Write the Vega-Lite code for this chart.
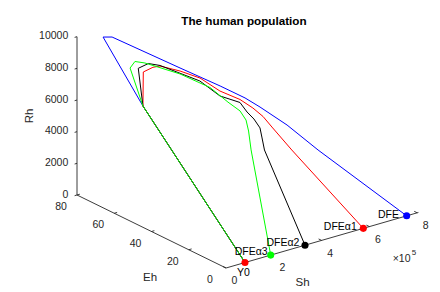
{
"$schema":"https://vega.github.io/schema/vega-lite/v6.json",
"width":440,"height":292,"autosize":{"type":"none"},"padding":0,
"background":"white",
"config":{"view":{"stroke":null},"text":{"font":"Liberation Sans"}},
"title":{"text":"The human population","font":"Liberation Sans","fontSize":11.7,"fontWeight":"bold","color":"#000000","anchor":"middle","frame":"group","dx":24,"offset":-28},
"datasets":{
"curves":[
{"c":"DFE","t":1,"Sh":79500,"Eh":0,"Rh":0},
{"c":"DFE","t":2,"Sh":79500,"Eh":54.8,"Rh":6728},
{"c":"DFE","t":3,"Sh":79500,"Eh":76.2,"Rh":9850},
{"c":"DFE","t":4,"Sh":100000,"Eh":74.0,"Rh":9890},
{"c":"DFE","t":5,"Sh":251000,"Eh":56.9,"Rh":8263},
{"c":"DFE","t":6,"Sh":341000,"Eh":46.9,"Rh":7309},
{"c":"DFE","t":7,"Sh":396000,"Eh":40.6,"Rh":6677},
{"c":"DFE","t":8,"Sh":430000,"Eh":36.9,"Rh":6166},
{"c":"DFE","t":9,"Sh":490000,"Eh":30.1,"Rh":5161},
{"c":"DFE","t":10,"Sh":559000,"Eh":22.3,"Rh":3733},
{"c":"DFE","t":11,"Sh":756000,"Eh":0,"Rh":0},
{"c":"DFEα1","t":1,"Sh":79500,"Eh":0,"Rh":0},
{"c":"DFEα1","t":2,"Sh":79500,"Eh":54.8,"Rh":6728},
{"c":"DFEα1","t":3,"Sh":79500,"Eh":54.6,"Rh":8888},
{"c":"DFEα1","t":4,"Sh":101000,"Eh":52.2,"Rh":9229},
{"c":"DFEα1","t":5,"Sh":117000,"Eh":50.5,"Rh":9337},
{"c":"DFEα1","t":6,"Sh":162000,"Eh":45.5,"Rh":9116},
{"c":"DFEα1","t":7,"Sh":207000,"Eh":40.5,"Rh":8762},
{"c":"DFEα1","t":8,"Sh":252000,"Eh":35.6,"Rh":8029},
{"c":"DFEα1","t":9,"Sh":297000,"Eh":30.6,"Rh":7587},
{"c":"DFEα1","t":10,"Sh":326000,"Eh":27.4,"Rh":7107},
{"c":"DFEα1","t":11,"Sh":349000,"Eh":24.9,"Rh":6614},
{"c":"DFEα1","t":12,"Sh":369000,"Eh":22.7,"Rh":5989},
{"c":"DFEα1","t":13,"Sh":414000,"Eh":17.8,"Rh":4624},
{"c":"DFEα1","t":14,"Sh":574500,"Eh":0,"Rh":0},
{"c":"DFEα2","t":1,"Sh":79500,"Eh":0,"Rh":0},
{"c":"DFEα2","t":2,"Sh":79500,"Eh":54.8,"Rh":6728},
{"c":"DFEα2","t":3,"Sh":79500,"Eh":57.3,"Rh":8964},
{"c":"DFEα2","t":4,"Sh":95000,"Eh":53.9,"Rh":9395},
{"c":"DFEα2","t":5,"Sh":113000,"Eh":49.9,"Rh":9425},
{"c":"DFEα2","t":6,"Sh":172000,"Eh":36.1,"Rh":8983},
{"c":"DFEα2","t":7,"Sh":203000,"Eh":29.3,"Rh":8294},
{"c":"DFEα2","t":8,"Sh":233000,"Eh":22.4,"Rh":8149},
{"c":"DFEα2","t":9,"Sh":244000,"Eh":20.0,"Rh":7637},
{"c":"DFEα2","t":10,"Sh":254000,"Eh":17.6,"Rh":7290},
{"c":"DFEα2","t":11,"Sh":263000,"Eh":15.5,"Rh":6810},
{"c":"DFEα2","t":12,"Sh":267000,"Eh":14.9,"Rh":6191},
{"c":"DFEα2","t":13,"Sh":270000,"Eh":14.0,"Rh":5471},
{"c":"DFEα2","t":14,"Sh":330500,"Eh":0,"Rh":0},
{"c":"DFEα3","t":1,"Sh":79500,"Eh":0,"Rh":0},
{"c":"DFEα3","t":2,"Sh":79500,"Eh":54.8,"Rh":6728},
{"c":"DFEα3","t":3,"Sh":79500,"Eh":61.7,"Rh":8730},
{"c":"DFEα3","t":4,"Sh":79500,"Eh":59.1,"Rh":9292},
{"c":"DFEα3","t":5,"Sh":87000,"Eh":54.7,"Rh":9419},
{"c":"DFEα3","t":6,"Sh":115000,"Eh":39.5,"Rh":9482},
{"c":"DFEα3","t":7,"Sh":139000,"Eh":26.4,"Rh":9274},
{"c":"DFEα3","t":8,"Sh":153000,"Eh":18.6,"Rh":8743},
{"c":"DFEα3","t":9,"Sh":163000,"Eh":13.4,"Rh":8440},
{"c":"DFEα3","t":10,"Sh":168000,"Eh":10.8,"Rh":7991},
{"c":"DFEα3","t":11,"Sh":170000,"Eh":9.7,"Rh":7353},
{"c":"DFEα3","t":12,"Sh":172000,"Eh":8.6,"Rh":6216},
{"c":"DFEα3","t":13,"Sh":187000,"Eh":0,"Rh":0}
],
"points":[
{"c":"DFE","Sh":756000,"Eh":0,"Rh":0},
{"c":"DFEα1","Sh":574500,"Eh":0,"Rh":0},
{"c":"DFEα2","Sh":330500,"Eh":0,"Rh":0},
{"c":"DFEα3","Sh":187000,"Eh":0,"Rh":0},
{"c":"Y0","Sh":79500,"Eh":0,"Rh":0}
],
"ptlabels":[
{"c":"DFE","Sh":724000,"Eh":0,"Rh":0},
{"c":"DFEα1","Sh":547000,"Eh":0,"Rh":0},
{"c":"DFEα2","Sh":307000,"Eh":0,"Rh":0},
{"c":"DFEα3","Sh":174500,"Eh":0,"Rh":0}
],
"segs":[
{"Sh":0,"Eh":80,"Rh":0,"Sh2":0,"Eh2":80,"Rh2":10000},
{"Sh":0,"Eh":80,"Rh":0,"Sh2":0,"Eh2":0,"Rh2":0},
{"Sh":0,"Eh":0,"Rh":0,"Sh2":805000,"Eh2":0,"Rh2":0},
{"Sh":0,"Eh":0,"Rh":0,"Sh2":0,"Eh2":1.6,"Rh2":0},
{"Sh":200000,"Eh":0,"Rh":0,"Sh2":200000,"Eh2":1.6,"Rh2":0},
{"Sh":400000,"Eh":0,"Rh":0,"Sh2":400000,"Eh2":1.6,"Rh2":0},
{"Sh":600000,"Eh":0,"Rh":0,"Sh2":600000,"Eh2":1.6,"Rh2":0},
{"Sh":800000,"Eh":0,"Rh":0,"Sh2":800000,"Eh2":1.6,"Rh2":0},
{"Sh":0,"Eh":20,"Rh":0,"Sh2":12000,"Eh2":20,"Rh2":0},
{"Sh":0,"Eh":40,"Rh":0,"Sh2":12000,"Eh2":40,"Rh2":0},
{"Sh":0,"Eh":60,"Rh":0,"Sh2":12000,"Eh2":60,"Rh2":0},
{"Sh":0,"Eh":80,"Rh":0,"Sh2":12000,"Eh2":80,"Rh2":0},
{"Sh":0,"Eh":80,"Rh":0,"Sh2":-10000,"Eh2":80,"Rh2":0},
{"Sh":0,"Eh":80,"Rh":2000,"Sh2":-10000,"Eh2":80,"Rh2":2000},
{"Sh":0,"Eh":80,"Rh":4000,"Sh2":-10000,"Eh2":80,"Rh2":4000},
{"Sh":0,"Eh":80,"Rh":6000,"Sh2":-10000,"Eh2":80,"Rh2":6000},
{"Sh":0,"Eh":80,"Rh":8000,"Sh2":-10000,"Eh2":80,"Rh2":8000},
{"Sh":0,"Eh":80,"Rh":10000,"Sh2":-10000,"Eh2":80,"Rh2":10000}
],
"shlab":[
{"t":"0","Sh":0,"Eh":0,"Rh":0},{"t":"2","Sh":200000,"Eh":0,"Rh":0},{"t":"4","Sh":400000,"Eh":0,"Rh":0},{"t":"6","Sh":600000,"Eh":0,"Rh":0},{"t":"8","Sh":800000,"Eh":0,"Rh":0}
],
"ehlab":[
{"t":"0","Sh":0,"Eh":0,"Rh":0},{"t":"20","Sh":0,"Eh":20,"Rh":0},{"t":"40","Sh":0,"Eh":40,"Rh":0},{"t":"60","Sh":0,"Eh":60,"Rh":0},{"t":"80","Sh":0,"Eh":80,"Rh":0}
],
"rhlab":[
{"t":"0","Sh":0,"Eh":80,"Rh":0},{"t":"2000","Sh":0,"Eh":80,"Rh":2000},{"t":"4000","Sh":0,"Eh":80,"Rh":4000},{"t":"6000","Sh":0,"Eh":80,"Rh":6000},{"t":"8000","Sh":0,"Eh":80,"Rh":8000},{"t":"10000","Sh":0,"Eh":80,"Rh":10000}
]
},
"layer":[
{"data":{"name":"segs"},
"transform":[{"calculate":"datum.Sh*0.000239 - datum.Eh*1.8625","as":"px"},{"calculate":"datum.Sh*0.000069 + datum.Eh*0.9125 + datum.Rh*0.01583","as":"py"},{"calculate":"datum.Sh2*0.000239 - datum.Eh2*1.8625","as":"px2"},{"calculate":"datum.Sh2*0.000069 + datum.Eh2*0.9125 + datum.Rh2*0.01583","as":"py2"}],
"mark":{"type":"rule","color":"#262626","strokeWidth":0.9},
"encoding":{"x":{"field":"px","type":"quantitative","scale":{"domain":[-226,214],"nice":false,"zero":false},"axis":null},"y":{"field":"py","type":"quantitative","scale":{"domain":[-24,268],"nice":false,"zero":false},"axis":null},"x2":{"field":"px2"},"y2":{"field":"py2"}}},
{"data":{"name":"curves"},
"transform":[{"calculate":"datum.Sh*0.000239 - datum.Eh*1.8625","as":"px"},{"calculate":"datum.Sh*0.000069 + datum.Eh*0.9125 + datum.Rh*0.01583","as":"py"}],
"mark":{"type":"line","strokeWidth":1},
"encoding":{"x":{"field":"px","type":"quantitative","axis":null},"y":{"field":"py","type":"quantitative","axis":null},"color":{"field":"c","type":"nominal","scale":{"domain":["DFE","DFEα1","DFEα2","DFEα3","Y0"],"range":["#0000ff","#ff0000","#000000","#00ff00","#ff0000"]},"legend":null},"order":{"field":"t","type":"quantitative"}}},
{"data":{"name":"points"},
"transform":[{"calculate":"datum.Sh*0.000239 - datum.Eh*1.8625","as":"px"},{"calculate":"datum.Sh*0.000069 + datum.Eh*0.9125 + datum.Rh*0.01583","as":"py"}],
"mark":{"type":"circle","size":50,"opacity":1},
"encoding":{"x":{"field":"px","type":"quantitative","axis":null},"y":{"field":"py","type":"quantitative","axis":null},"color":{"field":"c","type":"nominal","legend":null}}},
{"data":{"name":"ptlabels"},
"transform":[{"calculate":"datum.Sh*0.000239 - datum.Eh*1.8625","as":"px"},{"calculate":"datum.Sh*0.000069 + datum.Eh*0.9125 + datum.Rh*0.01583","as":"py"}],
"mark":{"type":"text","align":"right","baseline":"middle","dy":-3.5,"fontSize":10.5,"color":"#000000"},
"encoding":{"x":{"field":"px","type":"quantitative","axis":null},"y":{"field":"py","type":"quantitative","axis":null},"text":{"field":"c"}}},
{"data":{"values":[{"t":"Y0","Sh":79500,"Eh":0,"Rh":0}]},
"transform":[{"calculate":"datum.Sh*0.000239 - datum.Eh*1.8625","as":"px"},{"calculate":"datum.Sh*0.000069 + datum.Eh*0.9125 + datum.Rh*0.01583","as":"py"}],
"mark":{"type":"text","align":"center","baseline":"middle","dx":-1.5,"dy":10.5,"fontSize":10.5,"color":"#000000"},
"encoding":{"x":{"field":"px","type":"quantitative","axis":null},"y":{"field":"py","type":"quantitative","axis":null},"text":{"field":"t"}}},
{"data":{"name":"shlab"},
"transform":[{"calculate":"datum.Sh*0.000239 - datum.Eh*1.8625","as":"px"},{"calculate":"datum.Sh*0.000069 + datum.Eh*0.9125 + datum.Rh*0.01583","as":"py"}],
"mark":{"type":"text","align":"center","baseline":"middle","dx":8.5,"dy":13.3,"fontSize":10.5,"color":"#262626"},
"encoding":{"x":{"field":"px","type":"quantitative","axis":null},"y":{"field":"py","type":"quantitative","axis":null},"text":{"field":"t"}}},
{"data":{"name":"ehlab"},
"transform":[{"calculate":"datum.Sh*0.000239 - datum.Eh*1.8625","as":"px"},{"calculate":"datum.Sh*0.000069 + datum.Eh*0.9125 + datum.Rh*0.01583","as":"py"}],
"mark":{"type":"text","align":"center","baseline":"middle","dx":-16,"dy":12,"fontSize":10.5,"color":"#262626"},
"encoding":{"x":{"field":"px","type":"quantitative","axis":null},"y":{"field":"py","type":"quantitative","axis":null},"text":{"field":"t"}}},
{"data":{"name":"rhlab"},
"transform":[{"calculate":"datum.Sh*0.000239 - datum.Eh*1.8625","as":"px"},{"calculate":"datum.Sh*0.000069 + datum.Eh*0.9125 + datum.Rh*0.01583","as":"py"}],
"mark":{"type":"text","align":"right","baseline":"middle","dx":-8.7,"dy":-0.5,"fontSize":10.5,"color":"#262626"},
"encoding":{"x":{"field":"px","type":"quantitative","axis":null},"y":{"field":"py","type":"quantitative","axis":null},"text":{"field":"t"}}},
{"data":{"values":[{"t":"×10","Sh":800000,"Eh":0,"Rh":0}]},
"transform":[{"calculate":"datum.Sh*0.000239 - datum.Eh*1.8625","as":"px"},{"calculate":"datum.Sh*0.000069 + datum.Eh*0.9125 + datum.Rh*0.01583","as":"py"}],
"mark":{"type":"text","align":"left","baseline":"middle","dx":-24.5,"dy":46.5,"fontSize":10.5,"color":"#262626"},
"encoding":{"x":{"field":"px","type":"quantitative","axis":null},"y":{"field":"py","type":"quantitative","axis":null},"text":{"field":"t"}}},
{"data":{"values":[{"t":"5","Sh":800000,"Eh":0,"Rh":0}]},
"transform":[{"calculate":"datum.Sh*0.000239 - datum.Eh*1.8625","as":"px"},{"calculate":"datum.Sh*0.000069 + datum.Eh*0.9125 + datum.Rh*0.01583","as":"py"}],
"mark":{"type":"text","align":"center","baseline":"middle","dx":-3.2,"dy":40.5,"fontSize":8,"color":"#262626"},
"encoding":{"x":{"field":"px","type":"quantitative","axis":null},"y":{"field":"py","type":"quantitative","axis":null},"text":{"field":"t"}}},
{"data":{"values":[{"t":"Sh","Sh":400000,"Eh":0,"Rh":0,"k":"sh"},{"t":"Eh","Sh":0,"Eh":40,"Rh":0,"k":"eh"}]},
"transform":[{"calculate":"datum.Sh*0.000239 - datum.Eh*1.8625","as":"px"},{"calculate":"datum.Sh*0.000069 + datum.Eh*0.9125 + datum.Rh*0.01583","as":"py"}],
"layer":[
{"transform":[{"filter":"datum.k == 'sh'"}],"mark":{"type":"text","align":"center","baseline":"middle","dx":-19,"dy":43,"fontSize":11.5,"color":"#262626"},
"encoding":{"x":{"field":"px","type":"quantitative","axis":null},"y":{"field":"py","type":"quantitative","axis":null},"text":{"field":"t"}}},
{"transform":[{"filter":"datum.k == 'eh'"}],"mark":{"type":"text","align":"center","baseline":"middle","dx":-1.5,"dy":46.8,"fontSize":11.5,"color":"#262626"},
"encoding":{"x":{"field":"px","type":"quantitative","axis":null},"y":{"field":"py","type":"quantitative","axis":null},"text":{"field":"t"}}}
]},
{"data":{"values":[{"t":"Rh","Sh":0,"Eh":80,"Rh":5000}]},
"transform":[{"calculate":"datum.Sh*0.000239 - datum.Eh*1.8625","as":"px"},{"calculate":"datum.Sh*0.000069 + datum.Eh*0.9125 + datum.Rh*0.01583","as":"py"}],
"mark":{"type":"text","align":"center","baseline":"middle","dx":0,"dy":-47,"angle":270,"fontSize":11.5,"color":"#262626"},
"encoding":{"x":{"field":"px","type":"quantitative","axis":null},"y":{"field":"py","type":"quantitative","axis":null},"text":{"field":"t"}}}
]
}
